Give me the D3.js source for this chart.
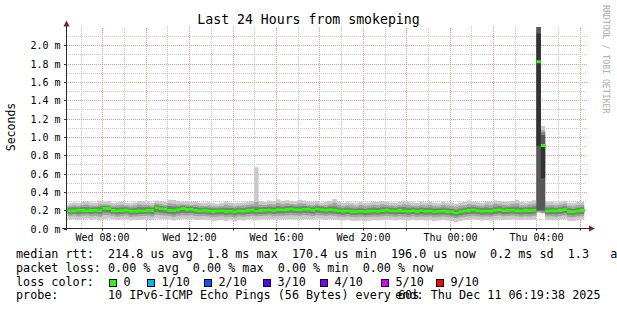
<!DOCTYPE html>
<html>
<head>
<meta charset="utf-8">
<script src="https://cdn.jsdelivr.net/npm/d3@7"></script>
<style>
body { margin: 0; background: #fff; }
svg { display: block; }
text { font-family: "DejaVu Sans Mono", monospace; fill: #000; white-space: pre; }
</style>
</head>
<body>
<svg id="chart" width="617" height="310"></svg>
<script>
// 12 minute bins, first bin starts Wed 06:24, values in microseconds
var binStart = new Date(2025, 11, 10, 6, 24, 0);
var binMinutes = 12;
var graphEnd = new Date(2025, 11, 11, 6, 19, 38);

// median rtt per bin
var med = [
  192,195,198,196,194,197,199,195,222,218,
  196,190,193,198,187,189,195,192,197,194,
  224,215,209,196,193,205,218,207,211,199,
  192,197,191,186,190,193,185,188,184,190,
  188,196,201,192,197,199,203,194,205,201,
  208,214,206,203,211,209,200,212,206,198,
  204,199,193,188,195,186,184,189,182,187,
  191,189,193,198,194,190,196,192,188,195,
  186,193,189,191,184,188,192,186,179,170,
  183,190,196,201,194,189,192,187,199,206,
  194,197,200,195,191,196,193,199,1820,905,
  192,194,190,197,208,186,183,191,196
];

// sorted pings p1 (fastest) .. p10 (slowest) per bin
var p1 = [
  98,103,91,100,106,96,102,88,105,108,
  101,90,95,104,86,92,94,99,102,93,
  109,103,100,97,88,99,106,101,104,96,
  94,98,90,84,87,93,83,89,79,91,
  88,96,100,94,97,101,102,95,99,98,
  102,105,100,101,104,101,97,106,100,96,
  101,99,92,86,94,84,83,88,80,85,
  91,87,94,98,95,88,96,93,86,95,
  86,92,88,90,83,86,92,86,78,72,
  83,89,96,100,93,88,92,87,96,102,
  93,97,99,95,89,96,92,98,170,160,
  91,94,89,97,103,85,82,90,96
];
var p2 = [
  136,141,131,138,143,135,140,129,148,146,
  139,128,134,142,126,131,133,137,140,132,
  151,144,141,137,129,140,146,142,145,136,
  134,137,130,125,128,133,124,129,121,130,
  128,135,139,133,136,140,141,134,140,139,
  143,146,141,140,145,142,137,146,141,136,
  141,138,132,127,133,125,124,128,122,126,
  130,127,133,137,134,128,135,132,126,134,
  126,131,128,130,124,126,131,126,119,113,
  123,129,135,139,133,128,131,127,136,141,
  133,136,138,134,129,135,132,137,180,170,
  131,133,129,136,142,126,123,130,135
];
var p3 = [
  158,162,156,160,164,158,163,155,176,172,
  161,152,158,164,150,153,157,159,162,156,
  178,171,166,160,154,165,172,167,170,161,
  157,160,154,149,152,156,148,152,146,153,
  151,158,163,156,159,162,164,157,165,163,
  168,172,166,164,170,167,161,171,166,160,
  165,161,156,151,157,149,147,152,145,150,
  153,151,156,160,157,152,158,155,150,157,
  149,155,151,153,147,150,154,149,142,135,
  146,152,158,162,156,151,154,150,160,165,
  156,159,161,157,153,158,155,160,190,185,
  154,156,152,159,166,149,146,153,158
];
var p4 = [
  176,180,182,179,178,181,184,178,203,199,
  180,173,177,183,170,172,179,176,181,178,
  205,197,192,178,175,188,200,190,194,182,
  176,180,175,169,173,177,168,171,167,173,
  172,179,185,176,180,183,186,177,188,184,
  190,196,189,186,194,192,183,194,189,181,
  187,182,176,171,178,169,167,172,165,170,
  174,172,176,181,177,173,179,175,171,178,
  169,176,172,174,167,171,175,169,162,154,
  166,173,179,184,177,172,175,170,182,188,
  177,180,183,178,174,179,176,182,200,200,
  175,177,173,180,190,169,166,174,179
];
var p5 = [
  187,190,193,191,189,192,194,190,217,213,
  191,185,188,193,182,184,190,187,192,189,
  219,210,204,191,188,200,213,202,206,194,
  187,192,186,181,185,188,180,183,179,185,
  183,191,196,187,192,194,198,189,200,196,
  203,209,201,198,206,204,195,207,201,193,
  199,194,188,183,190,181,179,184,177,182,
  186,184,188,193,189,185,191,187,183,190,
  181,188,184,186,179,183,187,181,174,166,
  178,185,191,196,189,184,187,182,194,201,
  189,192,195,190,186,191,188,194,900,550,
  187,189,185,192,203,181,178,186,191
];
var p6 = [
  197,200,203,201,199,202,204,200,227,223,
  201,195,198,203,192,194,200,197,202,199,
  229,220,214,201,198,210,223,212,216,204,
  197,202,196,191,195,198,190,193,189,195,
  193,201,206,197,202,204,208,199,210,206,
  213,219,211,208,216,214,205,217,211,203,
  209,204,198,193,200,191,189,194,187,192,
  196,194,198,203,199,195,201,197,193,200,
  191,198,194,196,189,193,197,191,184,176,
  188,195,201,206,199,194,197,192,204,211,
  199,202,205,200,196,201,198,204,2130,920,
  197,199,195,202,213,191,188,196,201
];
var p7 = [
  208,211,213,212,209,213,215,211,238,233,
  211,205,208,214,202,204,211,207,213,209,
  240,231,224,212,208,221,234,223,226,215,
  207,213,206,201,205,209,200,204,199,205,
  203,212,217,209,213,215,219,210,221,217,
  224,230,222,219,227,225,216,228,222,214,
  220,215,209,203,211,202,200,205,198,203,
  207,205,209,214,210,206,212,208,204,211,
  202,209,205,207,200,204,208,202,195,187,
  199,206,212,217,210,205,208,203,215,222,
  210,213,216,211,207,212,209,215,2500,1020,
  208,210,206,213,224,202,199,207,212
];
var p8 = [
  228,231,229,236,238,230,232,240,248,244,
  229,226,232,233,222,226,237,232,234,229,
  254,246,238,245,240,241,250,240,239,234,
  227,229,226,221,222,226,226,225,220,226,
  225,231,237,239,233,234,240,232,246,238,
  245,249,240,241,246,240,233,247,239,231,
  239,244,229,222,230,222,219,226,217,223,
  228,224,231,233,228,224,231,234,227,229,
  220,228,224,229,218,221,229,222,216,207,
  219,226,236,238,229,223,231,225,238,242,
  230,231,237,238,226,229,231,240,2600,1050,
  228,232,224,233,244,220,216,226,232
];
var p9 = [
  247,252,246,258,263,250,249,266,262,258,
  248,253,259,251,244,250,264,258,256,249,
  272,266,257,275,271,263,258,262,254,259,
  250,246,252,243,239,247,261,250,244,248,
  252,257,264,291,259,256,268,261,279,265,
  272,268,262,277,270,259,255,266,251,254,
  265,280,258,247,253,250,244,257,248,251,
  258,253,265,257,251,248,255,264,259,249,
  246,254,251,260,247,244,257,250,245,238,
  249,255,268,259,252,248,262,255,270,266,
  258,254,267,274,255,250,261,271,2700,1070,
  255,260,251,258,269,248,244,256,259
];
var p10 = [
  276,284,279,291,297,283,281,304,296,289,
  279,285,292,280,275,283,299,294,290,282,
  306,301,292,314,311,300,292,297,289,294,
  283,278,286,275,271,279,297,284,276,281,
  285,291,299,670,294,290,305,297,318,301,
  309,303,296,315,307,294,290,301,285,289,
  302,321,294,280,287,283,277,292,281,285,
  294,288,301,292,285,281,289,302,296,283,
  279,288,285,296,281,277,292,284,279,271,
  283,289,305,294,287,281,299,290,307,301,
  293,288,304,312,289,284,296,308,2800,1120,
  290,296,285,293,304,281,277,292,295
];

var lossLabels = ["0", "1/10", "2/10", "3/10", "4/10", "5/10", "9/10"];
var lossColors = ["#26ff00", "#00b8ff", "#0059ff", "#5e00ff", "#7e00ff", "#dd00ff", "#ff0000"];

var legendLines = [
  "median rtt:  214.8 us avg  1.8 ms max  170.4 us min  196.0 us now  0.2 ms sd  1.3   am/as",
  "packet loss: 0.00 % avg  0.00 % max  0.00 % min  0.00 % now"
];
var probeText = "probe:       10 IPv6-ICMP Echo Pings (56 Bytes) every 60s";
var endText = "end: Thu Dec 11 06:19:38 2025";

// plot frame
var plot = {left: 66, right: 587, top: 27, bottom: 228.5};

var svg = d3.select("#chart");

var x = d3.scaleTime()
    .domain([new Date(+graphEnd - 24 * 3600e3), graphEnd])
    .range([plot.left, plot.right]);

var y = d3.scaleLinear()
    .domain([0, 2.2])
    .range([plot.bottom, plot.top]);

var defs = svg.append("defs");
defs.append("clipPath").attr("id", "clip")
  .append("rect")
    .attr("x", plot.left).attr("y", plot.top)
    .attr("width", plot.right - plot.left).attr("height", plot.bottom - plot.top);

// checkerboard patterns give 1-on 1-off dotted grid lines
[["dotMajor", "#f39494"], ["dotMinor", "#c6c6c6"]].forEach(function(p) {
  var pat = defs.append("pattern").attr("id", p[0])
      .attr("patternUnits", "userSpaceOnUse")
      .attr("width", 2).attr("height", 2);
  pat.append("rect").attr("x", 0).attr("y", 0).attr("width", 1).attr("height", 1).attr("fill", p[1]);
  pat.append("rect").attr("x", 1).attr("y", 1).attr("width", 1).attr("height", 1).attr("fill", p[1]);
});

// grid, under the graph
var grid = svg.append("g").attr("shape-rendering", "crispEdges");
x.ticks(d3.timeHour.every(1)).forEach(function(t) {
  var px = Math.round(x(t));
  var major = t.getHours() % 2 === 0;
  grid.append("rect")
      .attr("x", px).attr("y", plot.top)
      .attr("width", 1).attr("height", Math.floor(plot.bottom) - plot.top)
      .attr("fill", major ? "url(#dotMajor)" : "url(#dotMinor)");
});
d3.range(1, 22).forEach(function(k) {
  var py = Math.round(y(k / 10));
  var major = k % 2 === 0;
  grid.append("rect")
      .attr("x", plot.left + 1).attr("y", py)
      .attr("width", plot.right - plot.left - 1).attr("height", 1)
      .attr("fill", major ? "url(#dotMajor)" : "url(#dotMinor)");
});

// step points, one extra at the end of the last bin
var steps = med.map(function(d, i) {
  return {t: new Date(+binStart + i * binMinutes * 60e3), i: i};
});
steps.push({t: new Date(+binStart + med.length * binMinutes * 60e3), i: med.length - 1});

var g = svg.append("g").attr("clip-path", "url(#clip)");

function band(lo, hi, color) {
  var area = d3.area()
      .curve(d3.curveStepAfter)
      .x(function(d) { return x(d.t); })
      .y0(function(d) { return y(lo(d.i) / 1000); })
      .y1(function(d) { return y(hi(d.i) / 1000); });
  g.append("path").datum(steps).attr("d", area).attr("fill", color);
}

// smoke, outer to inner
var smoke = [[p1, p10, "#cacaca"], [p2, p9, "#a4a4a4"], [p3, p8, "#7e7e7e"], [p4, p7, "#585858"], [p5, p6, "#323232"]];
smoke.forEach(function(s) {
  band(function(i) { return s[0][i]; }, function(i) { return s[1][i]; }, s[2]);
});

// median drawn as a thin band
var sw = (y.invert(0) - y.invert(3)) * 1000;
band(function(i) { return med[i] - sw / 2; }, function(i) { return med[i] + sw / 2; }, lossColors[0]);

// y labels
d3.range(0, 11).forEach(function(k) {
  var v = k / 5;
  var py = Math.round(y(v)) + 0.5;
  svg.append("text")
      .attr("x", 60.5).attr("y", py + 3.5)
      .attr("text-anchor", "end")
      .style("font-size", "10px")
      .text(d3.format(".1f")(v) + " m");
  svg.append("line")
      .attr("x1", plot.left - 2).attr("x2", plot.left)
      .attr("y1", py).attr("y2", py)
      .attr("stroke", "#333");
});

// x labels
var fmt = d3.timeFormat("%a %H:%M");
x.ticks(d3.timeHour.every(4)).forEach(function(t) {
  var px = Math.round(x(t)) + 0.5;
  svg.append("text")
      .attr("x", px).attr("y", 241)
      .attr("text-anchor", "middle")
      .style("font-size", "10px")
      .text(fmt(t));
});
x.ticks(d3.timeHour.every(2)).forEach(function(t) {
  var px = Math.round(x(t)) + 0.5;
  svg.append("line")
      .attr("x1", px).attr("x2", px)
      .attr("y1", plot.bottom).attr("y2", plot.bottom + 2)
      .attr("stroke", "#333");
});

// axes with arrows
svg.append("line")
    .attr("x1", plot.left + 0.5).attr("x2", plot.left + 0.5)
    .attr("y1", plot.bottom + 2).attr("y2", 24)
    .attr("stroke", "#2a2a2a");
svg.append("line")
    .attr("x1", plot.left - 4).attr("x2", 590)
    .attr("y1", plot.bottom).attr("y2", plot.bottom)
    .attr("stroke", "#2a2a2a");
svg.append("path")
    .attr("d", "M63.5,26.5L69.5,26.5L66.5,20.5Z")
    .attr("fill", "#7f1f1f");
svg.append("path")
    .attr("d", "M589,225.5L589,231.5L595,228.5Z")
    .attr("fill", "#7f1f1f");

// title, axis label, watermark
svg.append("text")
    .attr("x", 308.5).attr("y", 24)
    .attr("text-anchor", "middle")
    .style("font-size", "13.2px")
    .text("Last 24 Hours from smokeping");

svg.append("text")
    .attr("transform", "translate(15,127) rotate(-90)")
    .attr("text-anchor", "middle")
    .style("font-size", "11.5px")
    .text("Seconds");

svg.append("text")
    .attr("transform", "translate(603,5) rotate(90)")
    .style("font-size", "8.2px")
    .style("fill", "#aaaaaa")
    .text("RRDTOOL / TOBI OETIKER");

// legend
var lf = "11.76px";
legendLines.forEach(function(s, k) {
  svg.append("text")
      .attr("x", 16).attr("y", 258 + k * 13.8)
      .style("font-size", lf)
      .text(s);
});
svg.append("text")
    .attr("x", 16).attr("y", 285.6)
    .style("font-size", lf)
    .text("loss color:");
var boxX = [109, 147, 204, 263, 320, 381, 436];
lossLabels.forEach(function(l, k) {
  svg.append("rect")
      .attr("x", boxX[k] + 0.5).attr("y", 279.5)
      .attr("width", 7).attr("height", 7)
      .attr("fill", lossColors[k])
      .attr("stroke", "#000");
  svg.append("text")
      .attr("x", boxX[k] + 14.5).attr("y", 285.6)
      .style("font-size", lf)
      .text(l);
});
svg.append("text")
    .attr("x", 16).attr("y", 299.4)
    .style("font-size", lf)
    .text(probeText);
svg.append("text")
    .attr("x", 600.5).attr("y", 299.4)
    .attr("text-anchor", "end")
    .style("font-size", lf)
    .text(endText);
</script>
</body>
</html>
